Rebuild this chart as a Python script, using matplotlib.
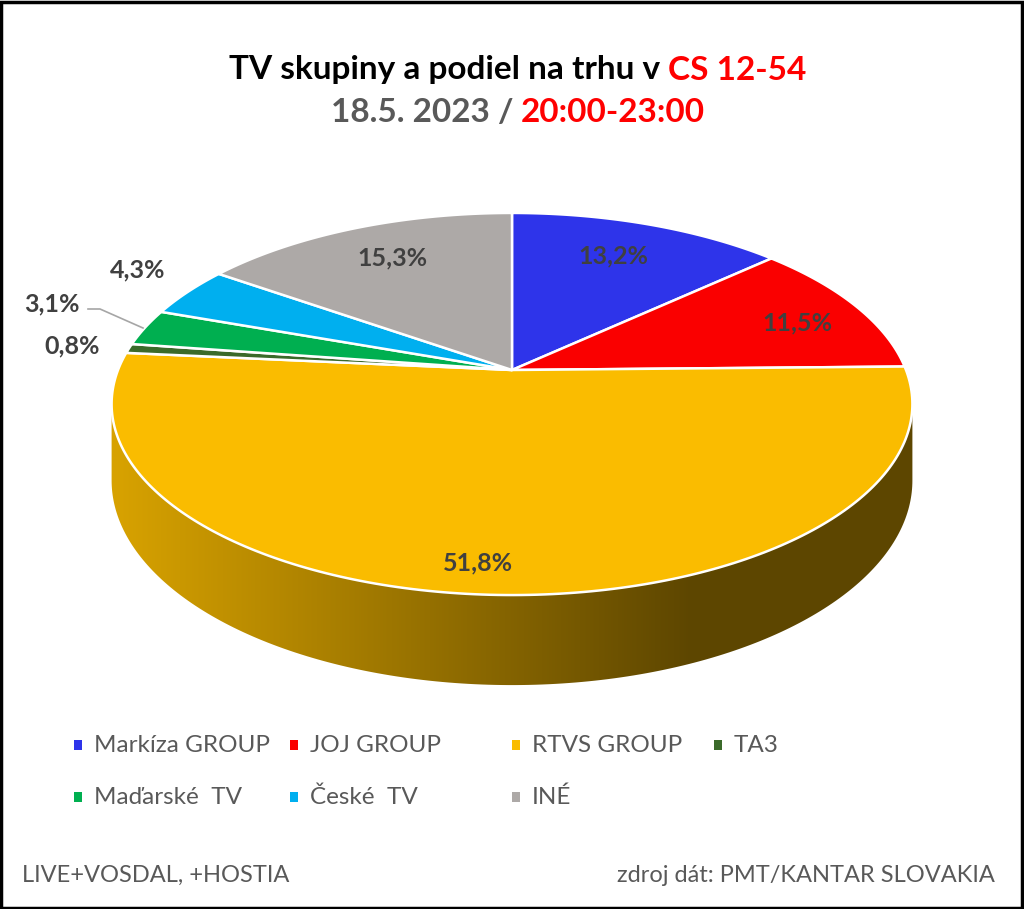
import numpy as np
import matplotlib
matplotlib.use('Agg')
from matplotlib import pyplot as plt
from matplotlib.patches import Polygon, Rectangle
from matplotlib.colors import to_rgb

# dados
groups = ['Markíza GROUP', 'JOJ GROUP', 'RTVS GROUP', 'TA3',
          'Maďarské  TV', 'České  TV', 'INÉ']
shares = [13.2, 11.5, 51.8, 0.8, 3.1, 4.3, 15.3]
colors = ['#2E34EA', '#FA0000', '#FABC00', '#3B6A2A', '#00AF50', '#00AFEF', '#ADA9A7']
share_labels = ['13,2%', '11,5%', '51,8%', '0,8%', '3,1%', '4,3%', '15,3%']

# geometria da pizza 3D (pixels)
CX, CY = 512, 370
B, A, K = 394, 185, 0.178
H = 74
LABEL_COLOR = '#404040'

plt.rcParams['font.family'] = ['Lato', 'DejaVu Sans']


def proj(u, v, depth=0.0):
    s = 1.0 / (1.0 + K * v)
    return CX + B * u * s, CY - A * v * s + depth * s


def arc(t1, t2, depth=0.0, n=200):
    th = np.linspace(t1, t2, n)
    x, y = proj(np.sin(th), np.cos(th), depth)
    return np.column_stack([x, y])


fig = plt.figure(figsize=(10.24, 9.09), dpi=100)
ax = fig.add_axes([0, 0, 1, 1])
ax.set_xlim(0, 1024)
ax.set_ylim(909, 0)
ax.axis('off')

cum = np.concatenate([[0], np.cumsum(shares)]) / 100.0 * 2 * np.pi
t_right = np.arccos(-K)
t_left = 2 * np.pi - t_right

# lateral (so a parte da frente e visivel)
for i, c in enumerate(colors):
    a1, a2 = max(cum[i], t_right), min(cum[i + 1], t_left)
    if a2 <= a1:
        continue
    top = arc(a1, a2)
    bot = arc(a1, a2, H)[::-1]
    poly = Polygon(np.vstack([top, bot]), closed=True, facecolor='none', edgecolor='none')
    ax.add_patch(poly)
    xs = np.linspace(100, 930, 400)
    f = np.interp(xs, [118, 690, 930], [0.86, 0.375, 0.375])
    img = np.array(to_rgb(c))[None, None, :] * f[None, :, None]
    img = np.repeat(img, 2, axis=0)
    im = ax.imshow(img, extent=[100, 930, 700, 350], aspect='auto', interpolation='bilinear')
    im.set_clip_path(poly)

# topo
for i, c in enumerate(colors):
    pts = np.vstack([[CX, CY], arc(cum[i], cum[i + 1])])
    ax.add_patch(Polygon(pts, closed=True, facecolor=c, edgecolor='white', linewidth=1.8,
                         joinstyle='round'))

ax.set_xlim(0, 1024)
ax.set_ylim(909, 0)

# rotulos
label_pos = [(613, 256), (797, 323), (478, 563), (72, 346), (52, 304), (138, 270), (392, 258)]
for (x, y), s in zip(label_pos, share_labels):
    ax.text(x, y, s, ha='center', va='center', fontsize=18, fontweight='bold', color=LABEL_COLOR)
ax.plot([88, 100, 143], [309, 309, 328], color='#A6A6A6', linewidth=1.2)

# titulo com cores mistas
renderer = fig.canvas.get_renderer()


def mixed_line(parts, y, size):
    texts = [ax.text(0, y, s, color=c, fontsize=size, fontweight='bold', ha='left', va='center')
             for s, c in parts]
    widths = []
    for t in texts:
        bb = t.get_window_extent(renderer)
        widths.append(bb.width)
    x = 518 - sum(widths) / 2
    for t, w in zip(texts, widths):
        t.set_x(x)
        x += w


mixed_line([('TV skupiny a podiel na trhu v ', 'black'), ('CS 12-54', '#FF0000')], 70, 24)
mixed_line([('18.5. 2023 / ', '#595959'), ('20:00-23:00', '#FF0000')], 112, 24)

# legenda
leg_x = [78, 294, 516, 718, 78, 294, 516]
leg_y = [745, 745, 745, 745, 797, 797, 797]
for g, c, x, y in zip(groups, colors, leg_x, leg_y):
    ax.add_patch(Rectangle((x - 4, y - 5), 8, 10, facecolor=c, edgecolor='none'))
    ax.text(x + 16, y, g, ha='left', va='center', fontsize=17.5, color='#595959')

ax.text(22, 875, 'LIVE+VOSDAL, +HOSTIA', ha='left', va='center', fontsize=17, color='#595959')
ax.text(995, 875, 'zdroj dát: PMT/KANTAR SLOVAKIA', ha='right', va='center', fontsize=17,
        color='#595959')

fig.patches.append(Rectangle((0.001, 0.001), 0.997, 0.997, transform=fig.transFigure,
                             fill=False, edgecolor='black', linewidth=2.5))

fig.savefig('out.png', dpi=100)
